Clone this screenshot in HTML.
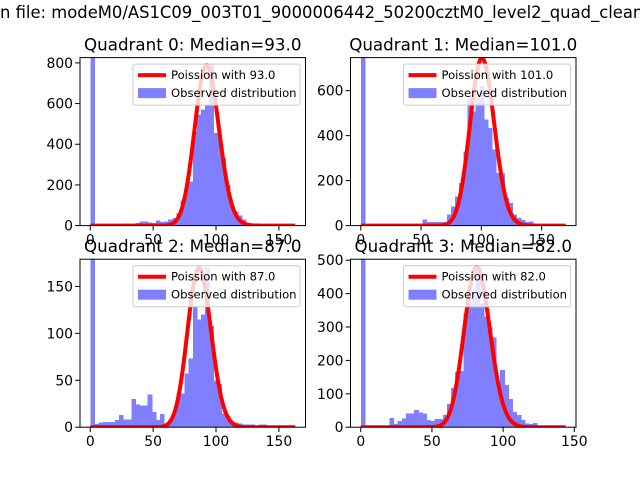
<!DOCTYPE html>
<html><head><meta charset="utf-8"><style>
body{margin:0;background:#fff;}
svg{display:block;font-family:"DejaVu Sans","Liberation Sans",sans-serif;}
</style></head><body>
<svg id="fig" width="640" height="480" viewBox="0 0 640 480">
<text x="0" y="18" font-size="16.4" fill="#000">n file: modeM0/AS1C09_003T01_9000006442_50200cztM0_level2_quad_clean.evt</text>
</svg>
<script>
// ---- data ----
const titles = ["Quadrant 0: Median=93.0","Quadrant 1: Median=101.0","Quadrant 2: Median=87.0","Quadrant 3: Median=82.0"];
const lambdas = [93,101,87,82];
const scales = [19080,18770,3970,10900];
const dataMax = [163,170,163,144];
const yMaxes = [826,747,179,503];
const yTicks0 = [0,200,400,600,800];
const yTicks1 = [0,200,400,600];
const yTicks2 = [0,50,100,150];
const yTicks3 = [0,100,200,300,400,500];
const xTicks = [0,50,100,150];
const counts0 = [2000,4,4,5,5,6,6,8,10,8,8,12,21,21,16,12,25,18,21,30,38,62,123,177,218,464,546,570,595,792,456,448,333,200,100,70,50,30,14,8,5,3,3,2,2,2,2,1,1,1];
const counts1 = [2000,3,3,3,3,4,4,4,4,5,5,5,6,6,8,27,16,16,16,16,16,49,86,130,190,330,567,508,567,620,471,434,338,234,234,123,100,49,34,25,15,19,5,4,3,2,2,2,1,1];
const counts2 = [400,3.4,5,5.5,5.5,5.5,7.6,13,8,8,30,24,23,23,35,16,7.6,14,4,7.6,14.7,36,36,57,73,128,115,120,170,108,50,46,14.7,12,6,5,4,3,3,3,2,3,3,2,2,2,1,1,1,1];
const counts3 = [1000,2,2,2,2,2,2,28,9,18,26,41,41,51,44,41,21,18,24,24,36,69,118,166,169,341,370,400,480,370,331,300,268,123,171,126,84,46,36,21,11,9,12,3,2,2,2,1,1,1];
const allCounts = [counts0,counts1,counts2,counts3];
const allYTicks = [yTicks0,yTicks1,yTicks2,yTicks3];

const NS="http://www.w3.org/2000/svg";
const svg=document.getElementById('fig');
function mk(tag,attrs,parent){const e=document.createElementNS(NS,tag);for(const k in attrs)e.setAttribute(k,attrs[k]);(parent||svg).appendChild(e);return e;}
function lgamma(n){let s=0;for(let i=2;i<=n;i++)s+=Math.log(i);return s;}
const boxes=[[80,57.6],[350.5,57.6],[80,259.2],[350.5,259.2]];
const W=225.5,H=168;
for(let q=0;q<4;q++){
  const [L,T]=boxes[q];
  const dm=dataMax[q];
  const x0=-0.05*dm, x1=dm*1.05;
  const X=v=>L+(v-x0)/(x1-x0)*W;
  const Y=v=>T+H-v/yMaxes[q]*H;
  const g=mk('g',{});
  
  
  const cp=mk('clipPath',{id:'cp'+q},g);
  mk('rect',{x:L,y:T,width:W,height:H},cp);
  const plot=mk('g',{'clip-path':'url(#cp'+q+')'},g);
  const counts=allCounts[q];
  const bw=dm/counts.length;
  counts.forEach((c,i)=>{
    const r=mk('rect',{x:X(i*bw),y:Y(c),width:X((i+1)*bw)-X(i*bw)+0.6,height:Y(0)-Y(c),fill:'#8080ff','shape-rendering':'crispEdges'},plot);
    
    
  });
  let d='';
  for(let k=0;k<=Math.floor(dm);k++){
    const lam=lambdas[q];
    const p=Math.exp(-lam+k*Math.log(lam)-lgamma(k))*scales[q];
    d+=(k?'L':'M')+X(k).toFixed(2)+','+Y(p).toFixed(2);
  }
  const path=mk('path',{d:d,fill:'none',stroke:'#ff0000','stroke-width':4,'stroke-linejoin':'round'},plot);
  
  
  mk('rect',{x:L,y:T,width:W,height:H,fill:'none',stroke:'#000','stroke-width':1},g);
  xTicks.forEach(t=>{
    const x=X(t);
    mk('line',{x1:x,x2:x,y1:T+H,y2:T+H+4.9,stroke:'#000'},g);
    const tx=mk('text',{x:x,y:T+H+19,'font-size':13.9,'text-anchor':'middle'},g);
    tx.textContent=t;
    
    
  });
  allYTicks[q].forEach(t=>{
    const y=Y(t);
    mk('line',{x1:L-4.9,x2:L,y1:y,y2:y,stroke:'#000'},g);
    const tx=mk('text',{x:L-7,y:y+5,'font-size':13.9,'text-anchor':'end'},g);
    tx.textContent=t;
    
    
  });
  const tt=mk('text',{x:L+W/2,y:T-7,'font-size':16.7,'text-anchor':'middle'},g);
  tt.textContent=titles[q];
  
  
  const lg=mk('g',{},g);
  
  
  const lx=L+W-172.5, ly=T+6.5;
  mk('rect',{x:lx,y:ly,width:167,height:41,rx:2,fill:'rgba(255,255,255,0.8)',stroke:'#cccccc'},lg);
  mk('line',{x1:lx+5,x2:lx+33,y1:ly+11,y2:ly+11,stroke:'#ff0000','stroke-width':4},lg);
  const t1=mk('text',{x:lx+38,y:ly+15,'font-size':11.6},lg);
  t1.textContent='Poission with '+lambdas[q].toFixed(1);
  mk('rect',{x:lx+5,y:ly+24,width:28,height:10,fill:'#8080ff'},lg);
  const t2=mk('text',{x:lx+38,y:ly+33,'font-size':11.6},lg);
  t2.textContent='Observed distribution';
}
</script>
</body></html>
